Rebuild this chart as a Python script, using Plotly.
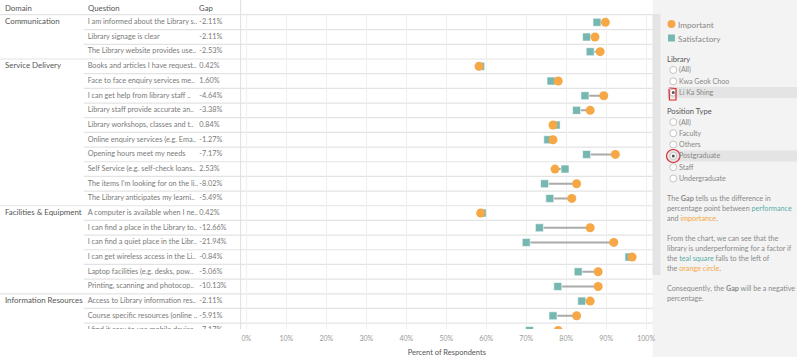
import plotly.graph_objects as go

# ---------------- data ----------------
domains = ["Communication", "Service Delivery", "Facilities & Equipment", "Information Resources"]
domain_sizes = [3, 10, 6, 3]
questions = [
    "I am informed about the Library s..",
    "Library signage is clear",
    "The Library website provides use..",
    "Books and articles I have request..",
    "Face to face enquiry services me..",
    "I can get help from library staff ..",
    "Library staff provide accurate an..",
    "Library workshops, classes and t..",
    "Online enquiry services (e.g. Ema..",
    "Opening hours meet my needs",
    "Self Service (e.g. self-check loans..",
    "The items I'm looking for on the li..",
    "The Library anticipates my learni..",
    "A computer is available when I ne..",
    "I can find a place in the Library to..",
    "I can find a quiet place in the Libr..",
    "I can get wireless access in the Li..",
    "Laptop facilities (e.g. desks, pow..",
    "Printing, scanning and photocop..",
    "Access to Library information res..",
    "Course specific resources (online ..",
    "I find it easy to use mobile device..",
]
gap_labels = ["-2.11%", "-2.11%", "-2.53%", "0.42%", "1.60%", "-4.64%", "-3.38%", "0.84%",
              "-1.27%", "-7.17%", "2.53%", "-8.02%", "-5.49%", "0.42%", "-12.66%", "-21.94%",
              "-0.84%", "-5.06%", "-10.13%", "-2.11%", "-5.91%", "-7.17%"]
important = [89.8, 87.2, 88.5, 58.2, 78.0, 89.4, 86.0, 76.7, 76.7, 92.3, 77.2, 82.6, 81.4,
             58.6, 86.0, 91.9, 96.5, 88.0, 88.0, 86.0, 82.6, 78.0]
satisfactory = [87.7, 85.1, 86.0, 58.6, 76.2, 84.7, 82.6, 77.5, 75.4, 85.1, 79.7, 74.6, 75.9,
                59.0, 73.3, 70.0, 95.7, 83.0, 77.9, 83.9, 76.7, 70.8]
x_ticks = [0, 10, 20, 30, 40, 50, 60, 70, 80, 90, 100]
legend_labels = ["Important", "Satisfactory"]
library_options = ["(All)", "Kwa Geok Choo", "Li Ka Shing"]
library_selected = "Li Ka Shing"
position_options = ["(All)", "Faculty", "Others", "Postgraduate", "Staff", "Undergraduate"]
position_selected = "Postgraduate"

# ---------------- style ----------------
W, H = 800, 357
FONT = "Lato"
ORANGE = "#F7A846"
TEAL = "#76B7B2"
LINE = "#e3e3e3"
BODY = "#8a8a8a"


def px(x):
    return x / W


def py(y):
    return 1 - y / H


rows = list(range(len(questions)))
domain_rows = []
start = 0
for s in domain_sizes:
    domain_rows.append(start)
    start += s
group_starts = set(domain_rows)

fig = go.Figure()

# left table (text traces clipped to table area)
fig.add_trace(go.Scatter(
    x=[5] * len(domains), y=domain_rows, text=domains, mode="text",
    textposition="middle right", textfont=dict(family=FONT, size=7.9, color="#555"),
    xaxis="x2", yaxis="y", hoverinfo="skip", cliponaxis=True, showlegend=False))
fig.add_trace(go.Scatter(
    x=[88] * len(rows), y=rows, text=questions, mode="text",
    textposition="middle right", textfont=dict(family=FONT, size=7.3, color="#7a7a7a"),
    xaxis="x2", yaxis="y", hoverinfo="skip", cliponaxis=True, showlegend=False))
fig.add_trace(go.Scatter(
    x=[200] * len(rows), y=rows, text=gap_labels, mode="text",
    textposition="middle right", textfont=dict(family=FONT, size=7.3, color="#7a7a7a"),
    xaxis="x2", yaxis="y", hoverinfo="skip", cliponaxis=True, showlegend=False))

# connectors
lx, ly = [], []
for i in rows:
    lx += [satisfactory[i], important[i], None]
    ly += [i, i, None]
fig.add_trace(go.Scatter(x=lx, y=ly, mode="lines", line=dict(color="#aaaaaa", width=2),
                         hoverinfo="skip", showlegend=False))
fig.add_trace(go.Scatter(x=satisfactory, y=rows, mode="markers", name=legend_labels[1],
                         marker=dict(symbol="square", size=8, color=TEAL,
                                     line=dict(color="rgba(255,255,255,0.6)", width=1)),
                         showlegend=False))
fig.add_trace(go.Scatter(x=important, y=rows, mode="markers", name=legend_labels[0],
                         marker=dict(symbol="circle", size=9, color=ORANGE, line=dict(width=0)),
                         showlegend=False))

shapes = []
# right panel
shapes.append(dict(type="rect", xref="paper", yref="paper", x0=px(655), x1=1, y0=0, y1=1,
                   fillcolor="#f3f3f3", line=dict(width=0), layer="below"))
shapes.append(dict(type="rect", xref="paper", yref="paper", x0=px(655), x1=px(663), y0=py(275), y1=py(14),
                   fillcolor="#e4e4e4", line=dict(width=0), layer="below"))
# header line and vertical separator
shapes.append(dict(type="line", xref="paper", yref="paper", x0=0, x1=px(655), y0=py(14.7), y1=py(14.7),
                   line=dict(color=LINE, width=1.2), layer="below"))
shapes.append(dict(type="line", xref="paper", yref="paper", x0=px(241.5), x1=px(241.5), y0=py(329), y1=1,
                   line=dict(color=LINE, width=1.2), layer="below"))
# row separators
for i in rows[:-1]:
    x0 = 0 if (i + 1) in group_starts else px(84)
    shapes.append(dict(type="line", xref="paper", yref="y", x0=x0, x1=px(655), y0=i + 0.5, y1=i + 0.5,
                       line=dict(color=LINE, width=1.2), layer="below"))

annotations = []


def txt(x, y, s, size=7, color=BODY, anchor="left"):
    annotations.append(dict(x=px(x), y=py(y), xref="paper", yref="paper", text=s, showarrow=False,
                            xanchor=anchor, yanchor="middle", borderpad=0,
                            font=dict(family=FONT, size=size, color=color)))


# headers
txt(4, 7.5, "Domain", 7.8, "#555")
txt(87, 7.5, "Question", 7.8, "#555")
txt(199, 7.5, "Gap", 7.8, "#555")

# legend
shapes.append(dict(type="circle", xref="paper", yref="paper", x0=px(670), x1=px(678), y0=py(28), y1=py(20),
                   fillcolor=ORANGE, line=dict(width=0)))
shapes.append(dict(type="rect", xref="paper", yref="paper", x0=px(670.5), x1=px(677.5), y0=py(41.5), y1=py(34.5),
                   fillcolor=TEAL, line=dict(width=0)))
txt(680, 25, legend_labels[0], 8.2, "#888")
txt(680, 39, legend_labels[1], 8.2, "#888")


def radio_group(title, title_y, options, selected, first_y, step):
    txt(669, title_y, title, 7.6, "#555")
    for k, opt in enumerate(options):
        y = first_y + k * step
        if opt == selected:
            shapes.append(dict(type="rect", xref="paper", yref="paper", x0=px(670), x1=1,
                               y0=py(y + 5.5), y1=py(y - 5.5), fillcolor="#e4e4e4", line=dict(width=0),
                               layer="below"))
        shapes.append(dict(type="circle", xref="paper", yref="paper", x0=px(672.3), x1=px(679.3),
                           y0=py(y + 3.5), y1=py(y - 3.5), fillcolor="white",
                           line=dict(color="#b5b5b5", width=0.8)))
        if opt == selected:
            shapes.append(dict(type="circle", xref="paper", yref="paper", x0=px(674.3), x1=px(677.3),
                               y0=py(y + 1.5), y1=py(y - 1.5), fillcolor="#555", line=dict(width=0)))
        txt(681, y, opt, 7.1, "#888")


radio_group("Library", 59, library_options, library_selected, 70, 11.3)
radio_group("Position Type", 111, position_options, position_selected, 122, 11.3)

# red hand-drawn marks
shapes.append(dict(type="path", xref="paper", yref="paper",
                   path="M %f,%f L %f,%f L %f,%f L %f,%f L %f,%f" % (
                       px(672), py(88), px(678.5), py(88.5), px(678.5), py(100), px(672), py(100), px(671.5), py(89)),
                   line=dict(color="#e0262b", width=1.2)))
shapes.append(dict(type="circle", xref="paper", yref="paper", x0=px(669), x1=px(682.5), y0=py(162.5), y1=py(149.5),
                   line=dict(color="#e0262b", width=1.2)))

# explanatory text
TEALT = "#5aaea6"
ORT = "#f5a742"
PS = 7.2
txt(669, 198, "The <b>Gap</b> tells us the difference in", PS)
txt(669, 208, "percentage point between <span style='color:%s'>performance</span>" % TEALT, PS)
txt(669, 218, "and <span style='color:%s'>importance</span>." % ORT, PS)
txt(669, 238, "From the chart, we can see that the", PS)
txt(669, 248, "library is underperforming for a factor if", PS)
txt(669, 258, "the <span style='color:%s'>teal square</span> falls to the left of" % TEALT, PS)
txt(669, 268, "the <span style='color:%s'>orange circle</span>." % ORT, PS)
txt(669, 288, "Consequently, the <b>Gap</b> will be a negative", PS)
txt(669, 298, "percentage.", PS)

fig.update_layout(
    width=W, height=H, autosize=False,
    margin=dict(l=0, r=0, t=0, b=0),
    paper_bgcolor="white", plot_bgcolor="rgba(0,0,0,0)",
    showlegend=False,
    shapes=shapes, annotations=annotations,
    xaxis=dict(domain=[px(242), px(655)], range=[-1.32, 101.6], tickvals=x_ticks,
               ticktext=["%d%%" % v for v in x_ticks], showgrid=True, gridcolor="#f0f0f0",
               gridwidth=1, zeroline=False, showline=False, ticks="", ticklen=0,
               ticklabelstandoff=4,
               tickfont=dict(family=FONT, size=7, color="#999"),
               title=dict(text="Percent of Respondents", font=dict(family=FONT, size=7.5, color="#555"),
                          standoff=8),
               anchor="y", fixedrange=True),
    xaxis2=dict(domain=[0, px(242)], range=[0, 242], visible=False, anchor="y", fixedrange=True),
    yaxis=dict(domain=[py(329), py(15)], range=[20.9, -0.5], visible=False, fixedrange=True),
)

fig.write_html("out.html", config={"displayModeBar": False},
               post_script="document.body.style.margin='0';document.body.style.overflow='hidden';")
